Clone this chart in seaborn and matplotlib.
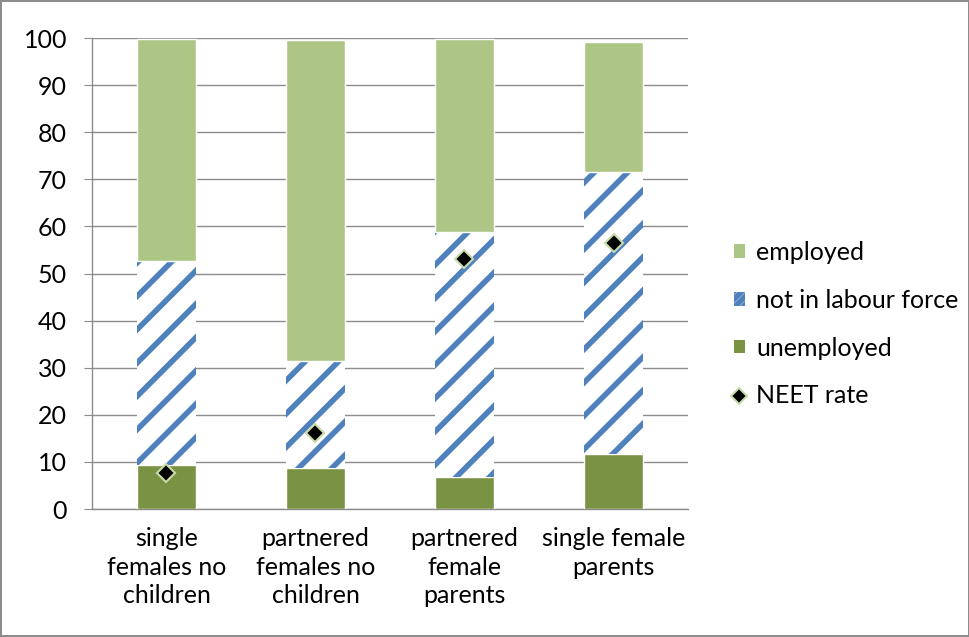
import numpy as np
import pandas as pd
import matplotlib
matplotlib.use('Agg')
import matplotlib.pyplot as plt
from matplotlib.patches import Patch
from matplotlib.lines import Line2D
import seaborn as sns

groups = ['single\nfemales no\nchildren', 'partnered\nfemales no\nchildren',
          'partnered\nfemale\nparents', 'single female\nparents']
unemployed = [9.3, 8.8, 6.7, 11.6]
not_in_lf = [43.4, 22.7, 52.2, 60.0]
employed = [47.1, 68.1, 40.8, 27.6]
neet_rate = [7.6, 16.2, 53.0, 56.5]

df = pd.DataFrame({'group': groups, 'unemployed': unemployed,
                   'nilf': not_in_lf, 'employed': employed, 'neet': neet_rate})
df['base_emp'] = df['unemployed'] + df['nilf']

sns.set_style('white')
plt.rcParams['font.family'] = ['Lato', 'DejaVu Sans']
plt.rcParams['hatch.linewidth'] = 4.0
plt.rcParams['text.color'] = 'black'
plt.rcParams['xtick.color'] = 'black'
plt.rcParams['ytick.color'] = 'black'

c_emp = '#adc686'
c_unemp = '#7a9243'
c_blue = '#4f81bd'
c_grid = '#8c8c8c'

fig = plt.figure(figsize=(9.7, 6.37), dpi=100)
fig.patch.set_edgecolor(c_grid)
fig.patch.set_linewidth(1.5)
ax = fig.add_axes([0.0948, 0.2009, 0.6145, 0.7394])

sns.barplot(data=df, x='group', y='unemployed', color=c_unemp, width=0.4,
            saturation=1, edgecolor='white', linewidth=1, ax=ax, zorder=3)
sns.barplot(data=df, x='group', y='nilf', bottom=df['unemployed'].values,
            color='white', width=0.4, saturation=1, hatch='/',
            edgecolor=c_blue, linewidth=0, ax=ax, zorder=3)
sns.barplot(data=df, x='group', y='employed', bottom=df['base_emp'].values,
            color=c_emp, width=0.4, saturation=1, edgecolor='white',
            linewidth=1, ax=ax, zorder=3)
sns.pointplot(data=df, x='group', y='neet', linestyle='none', marker='D',
              color='black', markersize=9, markeredgecolor='#c9dbab',
              markeredgewidth=1.5, ax=ax, zorder=5)

ax.set_xlim(-0.5, 3.5)
ax.set_ylim(0, 100)
ax.set_yticks(np.arange(0, 101, 10))
ax.yaxis.grid(True, color=c_grid, linewidth=1)
ax.set_axisbelow(True)
ax.set_xlabel('')
ax.set_ylabel('')
for s in ['top', 'right']:
    ax.spines[s].set_visible(False)
for s in ['left', 'bottom']:
    ax.spines[s].set_color(c_grid)
    ax.spines[s].set_linewidth(1)

ax.set_xticks(np.arange(-0.5, 3.6, 1), minor=True)
for lbl in ax.get_xticklabels():
    lbl.set_linespacing(1.3)
ax.tick_params(axis='x', which='major', length=0, pad=13, labelsize=18)
ax.tick_params(axis='x', which='minor', length=6, color=c_grid, direction='out')
ax.tick_params(axis='y', which='major', length=6, color=c_grid, direction='out',
               labelsize=18, left=True, pad=12)

handles = [
    Patch(facecolor=c_emp, edgecolor='none', label='employed'),
    Patch(facecolor='white', edgecolor=c_blue, hatch='////', linewidth=0,
          label='not in labour force'),
    Patch(facecolor=c_unemp, edgecolor='none', label='unemployed'),
    Line2D([], [], linestyle='none', marker='D', color='black', markersize=8,
           markeredgecolor='#c9dbab', markeredgewidth=1.5, label='NEET rate'),
]
fig.legend(handles=handles, loc='center left', bbox_to_anchor=(0.733, 0.491),
           frameon=False, fontsize=18, handlelength=0.45, handleheight=0.45,
           handletextpad=0.45, labelspacing=0.99)

plt.savefig('out.png', dpi=100)
